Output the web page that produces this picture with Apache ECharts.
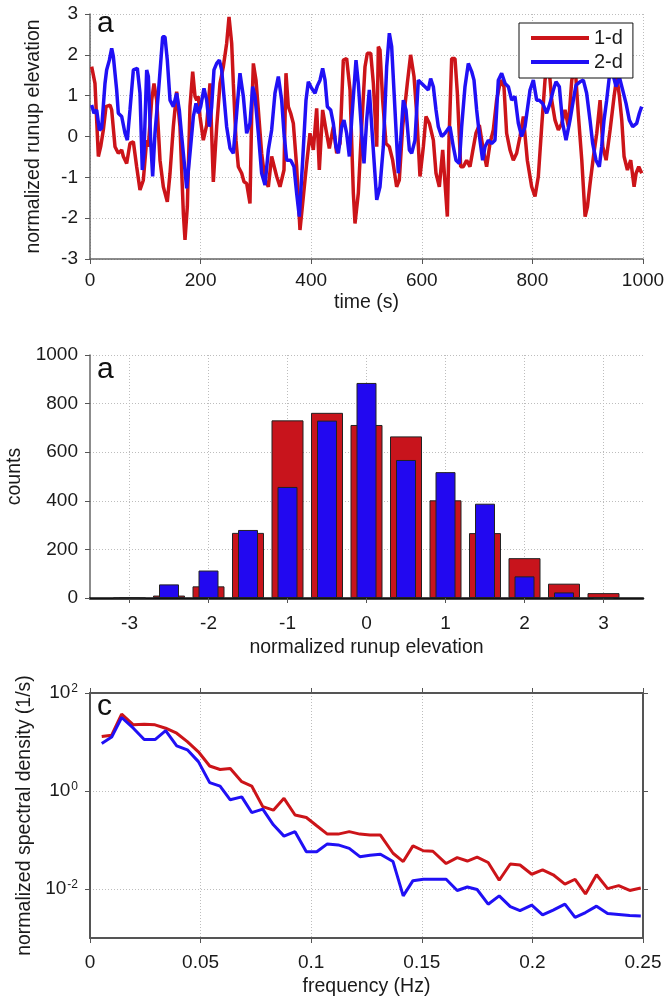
<!DOCTYPE html>
<html>
<head>
<meta charset="utf-8">
<script src="https://cdn.jsdelivr.net/npm/echarts@6/dist/echarts.min.js"></script>
<style>
html, body { margin: 0; padding: 0; background: #fff; }
#chart { width: 664px; height: 1000px; }
</style>
</head>
<body>
<div id="chart"></div>
<script>
// panel a (top): normalized runup time series
const time1d = [3.0, 9.0, 15.1, 19.3, 24.1, 28.9, 36.2, 39.2, 45.2, 51.2, 57.3, 60.3, 66.3, 72.3, 78.4, 84.4, 90.4, 96.4, 102.5, 105.5,
  111.5, 115.7, 120.6, 126.6, 132.6, 139.8, 144.7, 150.7, 156.7, 162.7, 168.8, 171.8, 176.0, 180.8, 185.7, 189.9, 192.9, 195.9, 198.9, 204.9,
  211.0, 217.0, 223.0, 229.1, 235.1, 241.1, 247.1, 251.4, 256.2, 259.2, 264.0, 268.2, 274.3, 278.5, 283.3, 289.3, 292.3, 295.4, 300.2, 304.4,
  310.4, 316.5, 322.5, 328.5, 337.6, 343.6, 350.8, 354.4, 358.6, 362.9, 367.7, 373.7, 379.7, 385.8, 391.8, 397.8, 403.9, 409.9, 414.7, 420.7,
  426.8, 432.8, 440.0, 446.1, 452.1, 458.1, 464.1, 470.2, 476.2, 479.2, 485.2, 491.3, 497.3, 501.5,
  507.6, 512.4, 518.5, 521.4, 524.4, 529.2, 535.2, 541.3, 547.3, 554.5, 559.3, 565.4, 573.8, 579.8, 585.9, 590.7, 596.7, 602.8, 607.6, 613.7,
  620.9, 625.7, 631.7, 637.8, 646.2, 649.2, 654.0, 660.0, 664.3, 670.3, 675.0, 681.1, 687.1, 691.9, 697.9, 704.0, 711.2, 717.2, 723.3, 729.3,
  735.3, 742.6, 748.6, 753.4, 759.5, 765.5, 771.5, 777.6, 783.6, 790.8, 798.7, 804.7, 810.7, 816.8, 822.8, 828.9, 834.9, 840.9, 846.9, 853.0,
  859.0, 865.0, 871.2, 877.3, 883.3, 889.3, 895.3, 899.5, 904.3, 910.4, 916.4, 922.4, 927.3, 933.3, 940.5, 947.7, 952.6, 957.4, 961.6, 965.8,
  971.8, 977.8, 983.9, 987.5, 992.3, 997.7];
const runup1d = [1.71, 1.30, -0.49, -0.25, 0.16, 0.73, 0.77, 0.65, -0.25, -0.41, -0.33, -0.49, -0.66, -0.17, -0.13, -0.74, -1.31, -1.07, -0.09, -0.25,
  0.89, 1.30, 0.89, -0.58, -1.23, -1.60, -0.90, 0.24, 1.10, 0.24, -1.88, -2.53, -1.72, 0.73, 1.59, 0.98, 0.89, 0.98, 0.49, -0.09,
  0.28, 1.30, -1.11, 0.24, 1.30, 1.71, 2.28, 2.93, 2.28, 1.30, -0.09, -0.74, -0.90, -1.11, -1.15, -1.64, 0.49, 1.79, 1.38, 0.65,
  -0.41, -1.07, -1.23, -0.49, -0.98, -1.23, -0.82, 1.55, 0.73, 0.57, 0.32, -0.74, -2.29, -1.47, -0.66, 0.08, -0.33, 0.69, -0.82, 0.65,
  0.16, -0.29, 0.24, -0.41, -0.17, 1.87, 1.91, 1.14, -1.39, -2.13, -1.39, 0.24, 1.71, 2.04,
  2.04, 1.30, -0.25, 2.20, 2.12, 0.89, -0.17, -0.25, -0.58, -1.23, -1.07, 0.24, 1.30, 2.00, 1.47, 0.57, -0.98, -0.25, 0.49, 0.32,
  -0.09, -0.90, -1.23, -0.33, -1.96, -0.09, 1.91, 1.91, 1.06, -0.74, -0.74, -0.58, -0.74, -0.37, 0.08, 0.28, -0.33, -0.74, -0.17, 0.16,
  0.89, 1.38, 1.22, 0.08, -0.33, -0.58, -0.41, 0.0, 0.49, -0.58, -1.23, -1.47, -0.98, 0.24, 1.38, 1.87, 0.89, 0.40, 0.16, 0.32,
  0.65, 0.24, 1.38, 1.71, 0.49, -0.58, -1.96, -1.72, -1.15, -0.49, 0.08, 0.89, -0.25, -0.58, 0.16, 0.98, 1.46, 0.98, 0.40, -0.49,
  -0.82, -0.58, -1.23, -0.90, -0.74, -0.90];
const time2d = [3.0, 7.2, 12.1, 16.9, 21.1, 27.1, 30.1, 35.0, 39.2, 42.2, 48.2, 51.2, 57.3, 63.3, 67.5, 72.3, 78.4, 85.6, 90.4, 94.6,
  97.6, 102.5, 105.5, 109.7, 113.3, 117.5, 123.6, 131.4, 135.6, 139.8, 144.7, 150.7, 156.7, 161.5, 165.8, 170.0, 174.8, 180.8, 186.9, 191.7,
  195.9, 200.1, 206.1, 211.0, 215.8, 220.0, 224.2, 229.1, 233.9, 238.1, 242.3, 247.1, 253.2, 259.2, 265.2, 271.2, 277.3, 283.3, 289.3, 294.2,
  298.4, 304.4, 310.4, 316.5, 322.5, 328.5, 334.5, 340.6, 346.6, 350.8, 355.6, 362.9, 368.9, 373.7, 378.5, 384.6, 390.6, 394.8, 400.8, 406.9,
  411.1, 415.9, 420.7, 425.0, 429.2, 435.2, 440.0, 444.8, 449.1, 455.1, 459.3, 464.1, 469.0, 473.2, 481.0, 485.2, 491.3, 495.5, 500.3, 505.1,
  511.1,
  518.5, 524.4, 530.4, 536.5, 541.3, 545.5, 551.5, 557.5, 561.8, 566.6, 571.4, 577.5, 581.7, 587.7, 593.7, 599.8, 605.8, 611.8, 616.0, 620.9,
  625.7, 629.9, 635.9, 641.9, 646.2, 651.0, 657.0, 661.8, 667.9, 672.1, 678.1, 684.1, 690.2, 694.4, 699.2, 705.2, 710.0, 714.3, 720.3, 726.3,
  732.3, 738.4, 744.4, 750.5, 756.5, 762.5, 768.5, 774.6, 780.6, 786.6, 795.7, 801.7, 807.7, 812.5, 818.6, 825.8, 831.8, 837.9, 842.7, 848.7,
  854.7, 860.8, 868.0, 874.0, 878.9, 886.1, 892.1, 898.1, 904.2, 909.0, 915.0, 921.0, 925.3, 929.5, 934.3, 939.1, 945.2, 951.2, 957.2, 963.2,
  969.3, 975.3, 981.3, 988.5, 993.4, 997.6];
const runup2d = [0.77, 0.57, 0.65, 0.16, 0.20, 1.30, 1.63, 1.87, 2.16, 1.96, 1.14, 0.57, 0.49, 0.08, -0.09, 0.65, 1.63, 1.67, 1.06, -0.82,
  -0.41, 1.63, 1.47, -0.09, -0.98, 0.08, 1.06, 2.44, 2.44, 1.87, 0.89, 0.73, 1.06, 0.65, 0.0, -0.58, -1.27, -0.41, 0.49, 0.81,
  0.57, 0.73, 1.18, 0.89, 0.24, 0.73, 1.63, 1.79, 1.87, 1.63, 0.98, 0.24, -0.29, -0.41, 0.57, 1.55, 0.98, 0.08, 0.32, 1.22,
  0.98, 0.08, -0.90, -1.19, -0.33, 0.16, 1.06, 1.47, 0.89, 0.08, -0.58, -0.58, -0.74, -1.39, -1.96, -0.58, 0.89, 1.34, 1.18, 1.06,
  1.24, 1.38, 1.67, 1.38, 0.73, 0.65, 0.32, -0.25, -0.41, 0.24, 0.40, 0.08, -0.49, 0.40, 1.87, 1.30, 0.08, -0.66, 0.40, 1.14,
  -0.09,
  -1.55, -1.23, -0.25, 1.71, 2.53, 2.20, 0.65, -0.90, -0.09, 0.89, 0.65, -0.33, -0.41, -0.09, 1.38, 1.30, 1.22, 1.14, 1.42, 1.22,
  0.65, 0.24, 0.0, 0.08, 0.16, 0.24, -0.25, -0.58, -0.66, 0.24, 1.22, 1.79, 1.59, 1.38, 0.65, -0.09, -0.58, -0.25, -0.09, -0.17,
  -0.09, 1.38, 1.55, 1.30, 1.22, 0.89, 0.98, 0.32, 0.0, 0.24, 1.14, 1.38, 0.89, 0.89, 0.81, 0.57, 0.81, 1.14, 1.34, 1.22,
  0.32, -0.09, 0.40, 0.89, 1.26, 1.34, 1.38, 1.06, 0.40, -0.17, -0.58, -0.74, -0.25, 0.40, 0.89, 1.46, 1.55, 1.22, 1.46, 1.14,
  0.81, 0.40, 0.24, 0.32, 0.57, 0.73];

// panel a (middle): histogram of runup
const binCenters = [-3, -2.5, -2, -1.5, -1, -0.5, 0, 0.5, 1, 1.5, 2, 2.5, 3];
const counts1d = [0, 10, 48, 268, 731, 762, 712, 665, 402, 267, 164, 59, 20];
const counts2d = [0, 56, 113, 280, 457, 730, 885, 568, 518, 388, 89, 23, 0];
const histTicks = [-3, -2, -1, 0, 1, 2, 3];

// panel c: spectra
const freq = [0.0053, 0.0098, 0.0143, 0.0196, 0.0245, 0.0294, 0.0342, 0.0392, 0.044, 0.049, 0.0541, 0.0588, 0.0634, 0.0686, 0.0731, 0.0781, 0.0829,
  0.0877, 0.0927, 0.0978, 0.1025, 0.1073, 0.1122, 0.1172, 0.122, 0.1266, 0.1313, 0.137, 0.1416, 0.146, 0.1507, 0.155, 0.161, 0.166, 0.1706,
  0.175, 0.18, 0.185, 0.19, 0.1944, 0.1997, 0.2046, 0.2094, 0.2147, 0.2193, 0.224, 0.229, 0.234, 0.239, 0.244, 0.249];
const psd1d = [12.9, 13.8, 37.2, 22.4, 22.9, 22.4, 19.1, 15.1, 10.2, 6.31, 3.24, 2.75, 2.88, 1.55, 1.26, 0.479, 0.407, 0.708, 0.324, 0.288,
  0.195, 0.132, 0.132, 0.148, 0.132, 0.126, 0.126, 0.0537, 0.0363, 0.0759, 0.0603, 0.0589, 0.0331, 0.0437, 0.0372, 0.0447, 0.0347, 0.0151,
  0.0324, 0.0309, 0.0200, 0.0245, 0.0195, 0.0126, 0.0158, 0.00794, 0.0195, 0.0102, 0.0117, 0.00933, 0.0105];
const psd2d = [9.33, 12.6, 31.6, 19.1, 11.2, 11.2, 17.0, 8.32, 6.92, 3.98, 1.48, 1.26, 0.661, 0.759, 0.363, 0.427, 0.204, 0.120, 0.148, 0.0575,
  0.0575, 0.0832, 0.0794, 0.0676, 0.0457, 0.0490, 0.0513, 0.0363, 0.00724, 0.0148, 0.0158, 0.0158, 0.0158, 0.00933, 0.0110, 0.00977, 0.00490,
  0.00724, 0.00437, 0.00363, 0.00468, 0.00295, 0.00372, 0.00490, 0.00263, 0.00331, 0.00447, 0.00316, 0.00302, 0.00288, 0.00282];
const psdTicks = [0.01, 1, 100];

const RED = '#cc1419';
const BLUE = '#2010f5';
const FONT = 'Liberation Sans, Arial, sans-serif';

const zip = (xs, ys) => xs.map((x, i) => [x, ys[i]]);

const gridLine = { show: true, lineStyle: { color: '#bdbdbd', type: [1, 2], width: 1 } };
// plain numbers, no thousands separator (1000 not 1,000)
const label = (margin) => ({ color: '#1a1a1a', fontSize: 19, fontFamily: FONT, margin: margin, formatter: (v) => String(v) });
const nameStyle = { color: '#1a1a1a', fontSize: 19.5, fontFamily: FONT };
const axisLine = (color, width) => ({ show: true, onZero: false, lineStyle: { color: color, width: width } });
const tick = { show: true, length: 5, lineStyle: { color: '#555' } };
// keep every panel exactly where it is put, whatever the labels do
const panel = (top, height) => ({ left: 90, width: 553, top: top, height: height, containLabel: false, outerBoundsMode: 'none' });

const chart = echarts.init(document.getElementById('chart'));

chart.setOption({
  backgroundColor: '#fff',
  animation: false,
  textStyle: { fontFamily: FONT },
  grid: [panel(14, 245), panel(355, 243), panel(693, 245)],
  legend: {
    data: ['1-d', '2-d'],
    orient: 'vertical',
    left: 519,
    top: 23,
    padding: [5, 10, 6, 12],
    itemGap: 4,
    itemWidth: 58,
    itemHeight: 4,
    icon: 'rect',
    backgroundColor: '#fff',
    borderColor: '#111',
    borderWidth: 1,
    textStyle: { color: '#1a1a1a', fontSize: 20, fontFamily: FONT }
  },
  xAxis: [
    {
      gridIndex: 0, type: 'value', min: 0, max: 1000, interval: 200,
      name: 'time (s)', nameLocation: 'middle', nameGap: 34, nameTextStyle: nameStyle,
      axisLine: axisLine('#666', 1.5), axisTick: tick, axisLabel: label(12), splitLine: gridLine
    },
    {
      gridIndex: 1, type: 'value', min: -3.5, max: 3.5,
      name: 'normalized runup elevation', nameLocation: 'middle', nameGap: 40, nameTextStyle: nameStyle,
      axisLine: axisLine('#111', 2.5),
      axisTick: Object.assign({}, tick, { customValues: histTicks }),
      axisLabel: Object.assign(label(16), { customValues: histTicks }),
      splitLine: gridLine
    },
    { gridIndex: 1, type: 'value', min: -3.5, max: 3.5, show: false },
    {
      gridIndex: 2, type: 'value', min: 0, max: 0.25, interval: 0.05,
      name: 'frequency (Hz)', nameLocation: 'middle', nameGap: 39, nameTextStyle: nameStyle,
      axisLine: axisLine('#555', 2), axisTick: tick, axisLabel: label(15), splitLine: gridLine
    },
    {
      gridIndex: 2, type: 'value', min: 0, max: 0.25, interval: 0.05, position: 'top',
      axisLine: axisLine('#555', 2), axisTick: tick, axisLabel: { show: false }, splitLine: { show: false }
    }
  ],
  yAxis: [
    {
      gridIndex: 0, type: 'value', min: -3, max: 3, interval: 1,
      name: 'normalized runup elevation', nameLocation: 'middle', nameGap: 46, nameTextStyle: nameStyle,
      axisLine: axisLine('#666', 1.5), axisTick: tick, axisLabel: label(12), splitLine: gridLine
    },
    {
      gridIndex: 1, type: 'value', min: 0, max: 1000, interval: 200,
      name: 'counts', nameLocation: 'middle', nameGap: 62, nameTextStyle: nameStyle,
      axisLine: axisLine('#666', 1.5), axisTick: tick, axisLabel: label(12), splitLine: gridLine
    },
    {
      gridIndex: 2, type: 'log', logBase: 10, min: 0.001, max: 100,
      name: 'normalized spectral density (1/s)', nameLocation: 'middle', nameGap: 52, nameTextStyle: nameStyle,
      axisLine: axisLine('#555', 2),
      axisTick: Object.assign({}, tick, { customValues: psdTicks }),
      axisLabel: Object.assign(label(12), {
        customValues: psdTicks,
        formatter: (v) => '10{s|' + Math.round(Math.log10(v)) + '}',
        rich: { s: { fontSize: 12, fontFamily: FONT, color: '#1a1a1a', verticalAlign: 'top', padding: [0, 0, 8, 1] } }
      }),
      splitLine: gridLine
    },
    {
      gridIndex: 2, type: 'log', logBase: 10, min: 0.001, max: 100, position: 'right',
      axisLine: axisLine('#555', 2),
      axisTick: Object.assign({}, tick, { customValues: psdTicks }),
      axisLabel: { show: false }, splitLine: { show: false }
    }
  ],
  graphic: [
    { type: 'text', left: 97, top: 9, style: { text: 'a', fontSize: 30, fontFamily: FONT, fill: '#111' } },
    { type: 'text', left: 97, top: 355, style: { text: 'a', fontSize: 30, fontFamily: FONT, fill: '#111' } },
    { type: 'text', left: 97, top: 692, style: { text: 'c', fontSize: 30, fontFamily: FONT, fill: '#111' } }
  ],
  series: [
    {
      name: '1-d', type: 'line', xAxisIndex: 0, yAxisIndex: 0, data: zip(time1d, runup1d),
      showSymbol: false, color: RED, lineStyle: { color: RED, width: 3.5 }
    },
    {
      name: '2-d', type: 'line', xAxisIndex: 0, yAxisIndex: 0, data: zip(time2d, runup2d),
      showSymbol: false, color: BLUE, lineStyle: { color: BLUE, width: 3.5 }
    },
    {
      name: 'hist 1-d', type: 'bar', xAxisIndex: 1, yAxisIndex: 1, data: zip(binCenters, counts1d),
      barWidth: 32, itemStyle: { color: '#c8141c', borderColor: '#222', borderWidth: 1 }
    },
    {
      name: 'hist 2-d', type: 'bar', xAxisIndex: 2, yAxisIndex: 1, data: zip(binCenters, counts2d),
      barWidth: 20, itemStyle: { color: '#2208f0', borderColor: '#222', borderWidth: 1 }
    },
    {
      name: 'psd 1-d', type: 'line', xAxisIndex: 3, yAxisIndex: 2, data: zip(freq, psd1d),
      showSymbol: false, lineStyle: { color: RED, width: 3 }
    },
    {
      name: 'psd 2-d', type: 'line', xAxisIndex: 3, yAxisIndex: 2, data: zip(freq, psd2d),
      showSymbol: false, lineStyle: { color: BLUE, width: 3 }
    }
  ]
});
</script>
</body>
</html>
